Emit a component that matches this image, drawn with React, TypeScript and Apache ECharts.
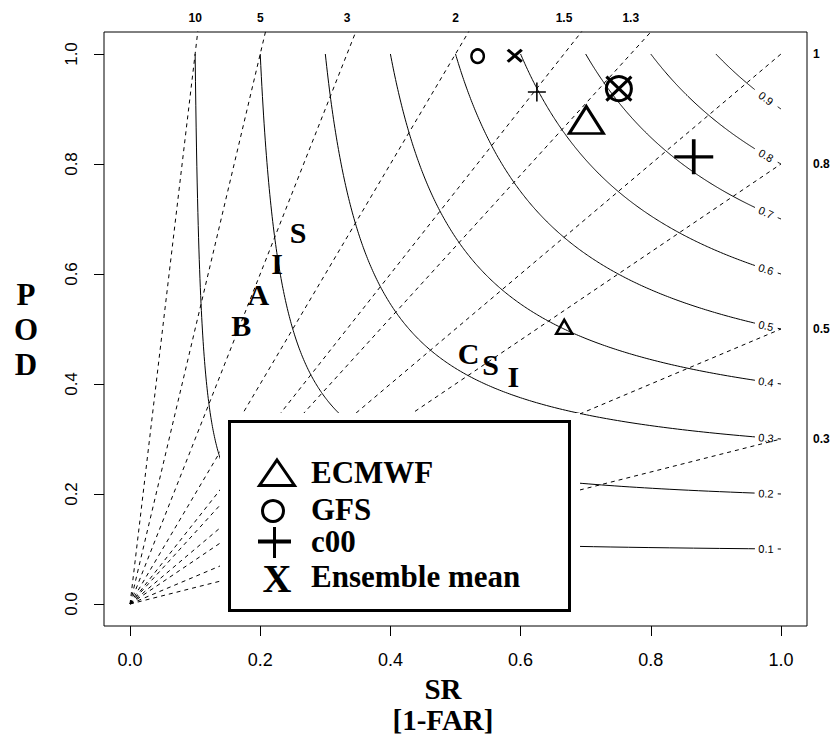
import React, { useEffect, useRef } from "react";
import * as echarts from "echarts";

// ---- Reference-line levels (performance diagram background) ----
const CSI_LEVELS = [0.1, 0.2, 0.3, 0.4, 0.5, 0.6, 0.7, 0.8, 0.9];
const BIAS_LEVELS = [0.3, 0.5, 0.8, 1, 1.3, 1.5, 2, 3, 5, 10];
const BIAS_TOP_LABELS = [10, 5, 3, 2, 1.5, 1.3];
const BIAS_RIGHT_LABELS = [1, 0.8, 0.5, 0.3];
const AXIS_TICKS = [0, 0.2, 0.4, 0.6, 0.8, 1.0];

// ---- Scores: index 0 = large marker, index 1 = small marker ----
const ECMWF_SR = [0.701, 0.667];
const ECMWF_POD = [0.88, 0.504];
const GFS_SR = [0.751, 0.534];
const GFS_POD = [0.937, 0.996];
const C00_SR = [0.866, 0.625];
const C00_POD = [0.813, 0.931];
const ENS_SR = [0.751, 0.591];
const ENS_POD = [0.937, 0.997];

// ---- Letter annotations ----
const ANNOT_TEXT = ["S", "I", "A", "B", "C", "S", "I"];
const ANNOT_SR = [0.258, 0.226, 0.197, 0.171, 0.52, 0.554, 0.589];
const ANNOT_POD = [0.676, 0.62, 0.562, 0.507, 0.456, 0.435, 0.413];

const LEGEND_NAMES = ["ECMWF", "GFS", "c00", "Ensemble mean"];

// CSI isoline: POD as function of SR for a given CSI
const podOf = (c: number, s: number) => 1 / (1 / c + 1 - 1 / s);
const GAP0 = 0.96;
const GAP1 = 0.995;
const LABEL_SR = 0.977;

function csiCurve(c: number) {
  const pts: number[][] = [];
  const t0 = Math.atan2(1, c);
  const t1 = Math.atan2(c, 1);
  const N = 240;
  for (let i = 0; i <= N; i++) {
    const t = t0 + ((t1 - t0) * i) / N;
    const k = Math.tan(t);
    const s = (1 + 1 / k) / (1 / c + 1);
    pts.push([s, k * s]);
  }
  const a = pts.filter((p) => p[0] <= GAP0);
  a.push([GAP0, podOf(c, GAP0)]);
  const b = [[GAP1, podOf(c, GAP1)], ...pts.filter((p) => p[0] >= GAP1)];
  return [a, b];
}

const PLUS = "path://M0,-1L0,1M-1,0L1,0";
const CROSS = "path://M-1,-1L1,1M-1,1L1,-1";

export default function App() {
  const ref = useRef<HTMLDivElement>(null);
  useEffect(() => {
    if (!ref.current) return;
    const chart = echarts.init(ref.current, null, { renderer: "svg" });

    const gridW = 703;
    const gridH = 594;
    const aspect = gridH / gridW;

    const series: any[] = [];
    CSI_LEVELS.forEach((c) => {
      const [a, b] = csiCurve(c);
      [a, b].forEach((seg, j) => {
        series.push({
          type: "line",
          name: "CSI " + c + (j ? "b" : "a"),
          data: seg,
          showSymbol: false,
          symbol: "none",
          silent: true,
          lineStyle: { color: "#000", width: 1, opacity: 1 },
          z: 2,
        });
      });
    });
    BIAS_LEVELS.forEach((bv) => {
      series.push({
        type: "line",
        name: "bias " + bv,
        data: [
          [0, 0],
          [1, bv],
        ],
        showSymbol: false,
        symbol: "none",
        silent: true,
        clip: true,
        lineStyle: { color: "#000", width: 1, type: [4, 4], opacity: 1 },
        z: 2,
      });
    });
    // CSI labels
    series.push({
      type: "scatter",
      name: "csi labels",
      silent: true,
      symbolSize: 1,
      itemStyle: { color: "rgba(0,0,0,0)", opacity: 1 },
      z: 3,
      data: CSI_LEVELS.map((c) => {
        const p = podOf(c, LABEL_SR);
        const slope = (p / LABEL_SR) ** 2 * aspect;
        return {
          name: String(c),
          value: [LABEL_SR, p],
          label: { rotate: (-Math.atan(slope) * 180) / Math.PI },
        };
      }),
      label: {
        show: true,
        position: "inside",
        formatter: "{b}",
        fontFamily: "Liberation Sans",
        fontSize: 11,
        color: "#000",
        opacity: 1,
        textBorderWidth: 0,
      },
    });
    // annotations
    series.push({
      type: "scatter",
      name: "annotations",
      silent: true,
      symbolSize: 1,
      itemStyle: { color: "rgba(0,0,0,0)", opacity: 1 },
      z: 6,
      data: ANNOT_TEXT.map((t, i) => ({ name: t, value: [ANNOT_SR[i], ANNOT_POD[i]] })),
      label: {
        show: true,
        position: "inside",
        formatter: "{b}",
        fontFamily: "Liberation Serif",
        fontWeight: "bold",
        fontSize: 30,
        color: "#000",
        opacity: 1,
        textBorderWidth: 0,
      },
    });

    const markers = (
      name: string,
      sr: number[],
      pod: number[],
      symbol: string,
      sizes: number[][],
      widths: number[]
    ) => ({
      type: "scatter",
      name,
      symbol,
      symbolKeepAspect: false,
      silent: true,
      z: 6,
      data: sr.map((s, i) => ({
        value: [s, pod[i]],
        symbolSize: sizes[i],
        itemStyle: { borderWidth: widths[i] },
      })),
      itemStyle: { color: "rgba(0,0,0,0)", borderColor: "#000", borderWidth: 3, opacity: 1 },
    });
    series.push(markers(LEGEND_NAMES[0], ECMWF_SR, ECMWF_POD, "triangle", [[34, 27], [16, 14]], [3, 2.5]));
    series.push(markers(LEGEND_NAMES[1], GFS_SR, GFS_POD, "circle", [[25, 24], [12.5, 13.5]], [3, 2.5]));
    series.push(markers(LEGEND_NAMES[2], C00_SR, C00_POD, PLUS, [[39, 35], [18, 19]], [3.5, 1.6]));
    series.push(markers(LEGEND_NAMES[3], ENS_SR, ENS_POD, CROSS, [[25, 24], [14, 12]], [3, 3]));

    const serif = "Liberation Serif";
    const legendText = (text: string, y: number) => ({
      type: "text",
      x: 311,
      y,
      z: 12,
      silent: true,
      style: {
        text,
        fill: "#000",
        fontFamily: serif,
        fontWeight: "bold",
        fontSize: 31,
        align: "left",
        verticalAlign: "middle",
      },
    });

    chart.setOption({
      animation: false,
      backgroundColor: "#fff",
      grid: {
        left: 104,
        top: 32,
        right: 28,
        bottom: 109,
        show: true,
        borderColor: "#000",
        borderWidth: 1,
        backgroundColor: "transparent",
        containLabel: false,
        outerBoundsMode: "none",
      },
      xAxis: [
        {
          type: "value",
          min: -0.04,
          max: 1.04,
          position: "bottom",
          axisLine: { show: false, onZero: false },
          splitLine: { show: false },
          axisTick: { show: true, customValues: AXIS_TICKS, length: 10, lineStyle: { color: "#000", width: 1 } },
          axisLabel: {
            customValues: AXIS_TICKS,
            formatter: (v: number) => v.toFixed(1),
            fontFamily: "Liberation Sans",
            fontSize: 18,
            color: "#000",
            margin: 25,
          },
          name: "SR\n[1-FAR]",
          nameLocation: "middle",
          nameGap: 33,
          nameTextStyle: {
            fontFamily: serif,
            fontWeight: "bold",
            fontSize: 29,
            color: "#000",
            lineHeight: 31,
            padding: [0, 25, 0, 0],
          },
        },
        {
          type: "value",
          min: -0.04,
          max: 1.04,
          position: "top",
          axisLine: { show: false, onZero: false },
          splitLine: { show: false },
          axisTick: { show: false },
          axisLabel: {
            customValues: BIAS_TOP_LABELS.map((b) => 1 / b),
            formatter: (v: number) => {
              const b = BIAS_TOP_LABELS.find((x) => Math.abs(1 / x - v) < 1e-9);
              return b === undefined ? "" : String(b);
            },
            fontFamily: "Liberation Sans",
            fontWeight: "bold",
            fontSize: 12,
            color: "#000",
            margin: 8,
          },
        },
      ],
      yAxis: [
        {
          type: "value",
          min: -0.04,
          max: 1.04,
          position: "left",
          axisLine: { show: false, onZero: false },
          splitLine: { show: false },
          axisTick: { show: true, customValues: AXIS_TICKS, length: 10, lineStyle: { color: "#000", width: 1 } },
          axisLabel: {
            customValues: AXIS_TICKS,
            formatter: (v: number) => v.toFixed(1),
            rotate: 90,
            fontFamily: "Liberation Sans",
            fontSize: 17,
            color: "#000",
            margin: 24,
          },
          name: "P\nO\nD",
          nameLocation: "middle",
          nameRotate: 0,
          nameGap: 78,
          nameTextStyle: {
            fontFamily: serif,
            fontWeight: "bold",
            fontSize: 31,
            color: "#000",
            lineHeight: 35,
            align: "center",
            padding: [8, 0, 0, 0],
          },
        },
        {
          type: "value",
          min: -0.04,
          max: 1.04,
          position: "right",
          axisLine: { show: false, onZero: false },
          splitLine: { show: false },
          axisTick: { show: false },
          axisLabel: {
            customValues: BIAS_RIGHT_LABELS,
            formatter: (v: number) => String(v),
            fontFamily: "Liberation Sans",
            fontWeight: "bold",
            fontSize: 12,
            color: "#000",
            margin: 6,
          },
        },
      ],
      series,
      graphic: {
        elements: [
          { type: "rect", z: 10, silent: true, shape: { x: 220, y: 413, width: 360, height: 201 }, style: { fill: "#fff" } },
          {
            type: "rect",
            z: 11,
            silent: true,
            shape: { x: 229.5, y: 421.5, width: 340, height: 189 },
            style: { fill: "none", stroke: "#000", lineWidth: 3 },
          },
          {
            type: "polygon",
            z: 11,
            silent: true,
            shape: { points: [[277, 460], [294.5, 485.5], [259.5, 485.5]] },
            style: { fill: "none", stroke: "#000", lineWidth: 3 },
          },
          {
            type: "circle",
            z: 11,
            silent: true,
            shape: { cx: 273, cy: 511, r: 10.5 },
            style: { fill: "none", stroke: "#000", lineWidth: 3 },
          },
          { type: "line", z: 11, silent: true, shape: { x1: 258, y1: 541.5, x2: 291, y2: 541.5 }, style: { stroke: "#000", lineWidth: 4 } },
          { type: "line", z: 11, silent: true, shape: { x1: 274.5, y1: 527, x2: 274.5, y2: 558 }, style: { stroke: "#000", lineWidth: 3 } },
          {
            type: "text",
            x: 277,
            y: 578.5,
            z: 12,
            silent: true,
            style: { text: "X", fill: "#000", fontFamily: serif, fontWeight: "bold", fontSize: 40, align: "center", verticalAlign: "middle" },
          },
          legendText(LEGEND_NAMES[0], 472.5),
          legendText(LEGEND_NAMES[1], 509.5),
          legendText(LEGEND_NAMES[2], 541),
          legendText(LEGEND_NAMES[3], 576.5),
        ],
      },
    });
    return () => chart.dispose();
  }, []);
  return (
    <div
      ref={ref}
      style={{ position: "absolute", left: 0, top: 0, width: 835, height: 735, background: "#fff" }}
    />
  );
}
